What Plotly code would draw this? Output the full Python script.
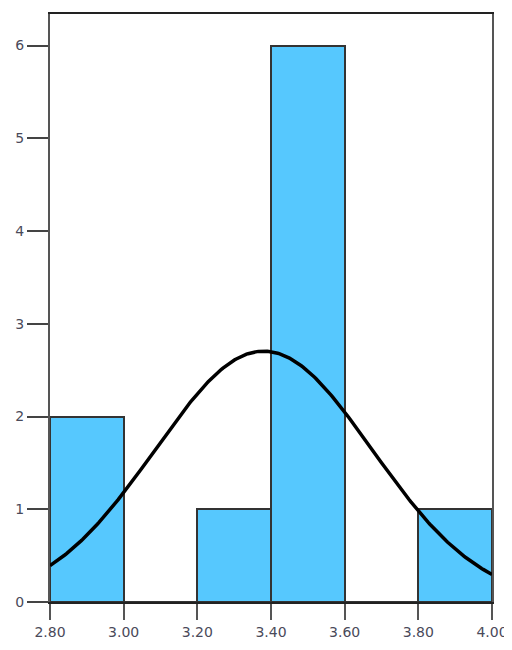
import numpy as np
import plotly.graph_objects as go

# Histogram data
bin_starts = [2.8, 3.0, 3.2, 3.4, 3.6, 3.8]
counts = [2, 0, 1, 6, 0, 1]
bin_width = 0.2
x_tick_vals = [2.8, 3.0, 3.2, 3.4, 3.6, 3.8, 4.0]
x_tick_labels = ["2.80", "3.00", "3.20", "3.40", "3.60", "3.80", "4.00"]
y_tick_vals = [0, 1, 2, 3, 4, 5, 6]

# Fitted normal curve parameters
fit_mean = 3.38
fit_sd = 0.295
n_total = sum(counts)

centers = [b + bin_width / 2 for b in bin_starts]
xs = np.linspace(2.8, 4.0, 300)
ys = n_total * bin_width * np.exp(-0.5 * ((xs - fit_mean) / fit_sd) ** 2) / (fit_sd * np.sqrt(2 * np.pi))

fig = go.Figure()
fig.add_trace(go.Bar(
    x=centers, y=counts, width=bin_width,
    marker=dict(color="#56C8FE", line=dict(color="#333333", width=2)),
    showlegend=False,
))
fig.add_trace(go.Scatter(
    x=xs, y=ys, mode="lines",
    line=dict(color="#000000", width=3.5),
    showlegend=False, cliponaxis=False,
))

# page body has an 8px default margin, so the figure is sized to fit the window
fig.update_layout(
    width=504, height=634,
    margin=dict(l=42, r=20, t=6, b=40),
    plot_bgcolor="white", paper_bgcolor="white",
    bargap=0,
    font=dict(family="DejaVu Sans", size=14, color="#4a4a5a"),
)
fig.update_xaxes(
    range=[2.8, 4.0], tickvals=x_tick_vals, ticktext=x_tick_labels,
    showgrid=False, zeroline=False, automargin=False,
    showline=True, linecolor="#222222", linewidth=2, mirror=True,
    ticks="outside", ticklen=16, tickwidth=2, tickcolor="#555555",
)
fig.update_yaxes(
    range=[0, 6.34], tickvals=y_tick_vals,
    showgrid=False, zeroline=False, automargin=False,
    showline=True, linecolor="#555555", linewidth=2, mirror=True,
    ticks="outside", ticklen=21, tickwidth=2, tickcolor="#444444",
)

fig.write_html("out.html")
